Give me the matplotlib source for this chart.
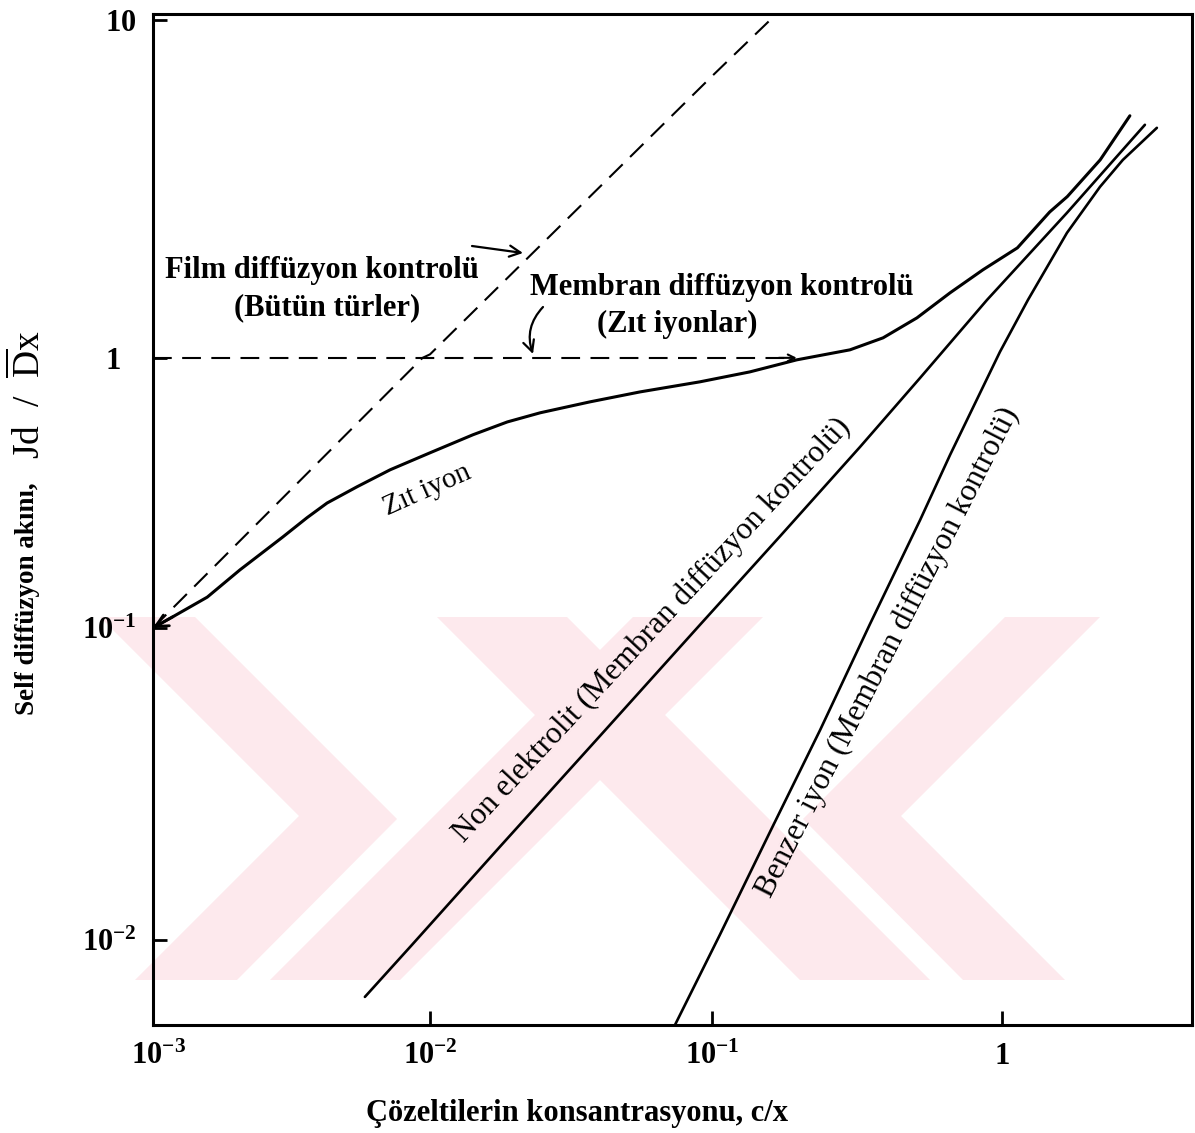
import numpy as np
import matplotlib
matplotlib.use("Agg")
import matplotlib.pyplot as plt
from matplotlib.patches import Polygon

plt.rcParams['font.family'] = 'Liberation Serif'
plt.rcParams['mathtext.fontset'] = 'custom'
plt.rcParams['mathtext.rm'] = 'Liberation Serif'
plt.rcParams['mathtext.bf'] = 'Liberation Serif:bold'
plt.rcParams['mathtext.it'] = 'Liberation Serif:italic'

# values
zit_x = [0.001, 0.00118, 0.00157, 0.00206, 0.00294, 0.00360, 0.00425, 0.00545, 0.00718, 0.0100,
         0.0142, 0.0188, 0.0246, 0.0369, 0.0556, 0.0906, 0.135, 0.196, 0.299, 0.389,
         0.509, 0.662, 0.860, 1.13, 1.46, 1.68, 2.18, 2.76]
zit_y = [0.100, 0.110, 0.130, 0.164, 0.217, 0.256, 0.290, 0.333, 0.385, 0.445,
         0.519, 0.579, 0.626, 0.687, 0.748, 0.815, 0.887, 0.983, 1.056, 1.146,
         1.313, 1.557, 1.822, 2.115, 2.70, 3.00, 3.85, 5.20]

non_x = [0.00582, 0.00854, 0.0177, 0.0401, 0.0906, 0.172, 0.324, 0.522, 0.888, 1.675, 3.11]
non_y = [0.00657, 0.00957, 0.0199, 0.0451, 0.1026, 0.219, 0.468, 0.843, 1.484, 2.685, 4.89]

benzer_x = [0.0739, 0.1065, 0.1585, 0.236, 0.350, 0.522, 0.662, 0.984, 1.229, 1.675, 2.178, 2.61, 3.42]
benzer_y = [0.00534, 0.0104, 0.0222, 0.0471, 0.103, 0.251, 0.437, 1.042, 1.484, 2.343, 3.206, 3.85, 4.79]

film_x = [0.001, 0.0094, 0.01, 0.1, 0.159, 0.2]
film_y = [0.1, 1.0, 1.024, 6.81, 10.0, 12.3]

memb_x = [0.001, 0.19]
memb_y = [1.0, 1.0]

x_ticks = [1e-3, 1e-2, 1e-1, 1]
x_labels = [r'$\;\;\mathbf{10^{-3}}$', r'$\mathbf{10^{-2}}$', r'$\mathbf{10^{-1}}$', r'$\mathbf{1}$']
y_ticks = [1e-2, 1e-1, 1, 10]
y_labels = [r'$\mathbf{10^{-2}}$', r'$\mathbf{10^{-1}}$', '1  ', r'$\mathbf{10}$']

# the hand-drawn decades are not all the same length
X_LOG = [-4, -3, -2, -1, 0, 1]
X_POS = [-124, 153, 430, 712, 1002, 1292]
Y_LOG = [-3, -2, -1, 0, 1, 2]
Y_POS = [-1252, -940, -628, -358, -20, 318]


def scale_funcs(logs, pos):
    def fwd(v):
        v = np.asarray(v, dtype=float)
        return np.interp(np.log10(np.clip(v, 1e-12, None)), logs, pos)

    def inv(p):
        return 10 ** np.interp(np.asarray(p, dtype=float), pos, logs)
    return fwd, inv


W, H = 1195, 1133


def fp(px, py):
    return (px / W, 1 - py / H)


fig = plt.figure(figsize=(W / 100, H / 100), dpi=100)

# faint watermark behind the chart
wm = [
    [(100, 617), (195, 617), (397, 819), (237, 980), (135, 980), (299, 816)],
    [(270, 980), (400, 980), (763, 617), (633, 617)],
    [(800, 980), (930, 980), (567, 617), (437, 617)],
    [(1100, 617), (1005, 617), (803, 819), (963, 980), (1065, 980), (901, 816)],
]
for pts in wm:
    fig.add_artist(Polygon([fp(*p) for p in pts], closed=True, transform=fig.transFigure,
                           fc='#fde9ed', ec='none', zorder=-1))

ax = fig.add_axes([153 / W, 1 - 1025 / H, (1192 - 153) / W, (1025 - 14) / H])
ax.patch.set_alpha(0)
ax.set_xscale('function', functions=scale_funcs(X_LOG, X_POS))
ax.set_yscale('function', functions=scale_funcs(Y_LOG, Y_POS))
ax.set_xlim(1e-3, 4.52)
ax.set_ylim(0.00534, 10.4)

ax.plot(zit_x, zit_y, color='k', lw=2.2, solid_capstyle='round')
ax.plot(non_x, non_y, color='k', lw=1.9, solid_capstyle='round')
ax.plot(benzer_x, benzer_y, color='k', lw=1.9, solid_capstyle='round')
ax.plot(film_x, film_y, color='k', lw=1.5, dashes=(9, 5))
ax.plot(memb_x, memb_y, color='k', lw=1.5, dashes=(9, 5))

# arrow heads
ax.annotate('', xy=(zit_x[0], zit_y[0]), xytext=(zit_x[1], zit_y[1]),
            arrowprops=dict(arrowstyle='->', lw=2, color='k', mutation_scale=22,
                            shrinkA=0, shrinkB=0))
ax.annotate('', xy=(0.196, 1.0), xytext=(0.17, 1.0),
            arrowprops=dict(arrowstyle='->', lw=1.5, color='k', mutation_scale=12,
                            shrinkA=0, shrinkB=0))

ax.set_xticks(x_ticks)
ax.set_xticklabels(x_labels)
ax.set_yticks(y_ticks)
ax.set_yticklabels(y_labels, fontweight='bold')
ax.minorticks_off()
ax.tick_params(direction='in', length=10, width=2, labelsize=22, pad=12)
for s in ax.spines.values():
    s.set_linewidth(2.2)

# annotations
fig.text(*fp(322, 270), 'Film diffüzyon kontrolü', ha='center', va='center', fontsize=22, fontweight='bold')
fig.text(*fp(327, 308), '(Bütün türler)', ha='center', va='center', fontsize=22, fontweight='bold')
fig.text(*fp(722, 287), 'Membran diffüzyon kontrolü', ha='center', va='center', fontsize=22, fontweight='bold')
fig.text(*fp(677, 324), '(Zıt iyonlar)', ha='center', va='center', fontsize=22, fontweight='bold')
fig.text(*fp(427, 490), 'Zıt iyon', ha='center', va='center', fontsize=21, rotation=24,
         rotation_mode='anchor')
fig.text(*fp(652, 630), 'Non elektrolit (Membran diffüzyon kontrolü)', ha='center', va='center',
         fontsize=22.5, rotation=47, rotation_mode='anchor')
fig.text(*fp(888, 652), 'Benzer iyon (Membran diffüzyon kontrolü)', ha='center', va='center',
         fontsize=22.5, rotation=63, rotation_mode='anchor')

ax.annotate('', xy=fp(523, 253), xycoords='figure fraction', xytext=fp(472, 246),
            textcoords='figure fraction',
            arrowprops=dict(arrowstyle='->', lw=1.6, color='k', mutation_scale=20,
                            shrinkA=0, shrinkB=0))
ax.annotate('', xy=fp(533, 354), xycoords='figure fraction', xytext=fp(543, 307),
            textcoords='figure fraction',
            arrowprops=dict(arrowstyle='->', lw=1.6, color='k', mutation_scale=20,
                            shrinkA=0, shrinkB=0, connectionstyle='arc3,rad=0.3'))

# axis titles
fig.text(*fp(577, 1113), 'Çözeltilerin konsantrasyonu, c/x', ha='center', va='center',
         fontsize=22, fontweight='bold')
fig.text(*fp(27, 715), 'Self diffüzyon akını,', ha='left', va='center', fontsize=19.5,
         fontweight='bold', rotation=90, rotation_mode='anchor')
fig.text(*fp(29, 330), r'Jd  /  $\overline{\mathrm{D}}$x', ha='right', va='center', fontsize=27,
         rotation=90, rotation_mode='anchor')

fig.savefig('out.png', dpi=100)
